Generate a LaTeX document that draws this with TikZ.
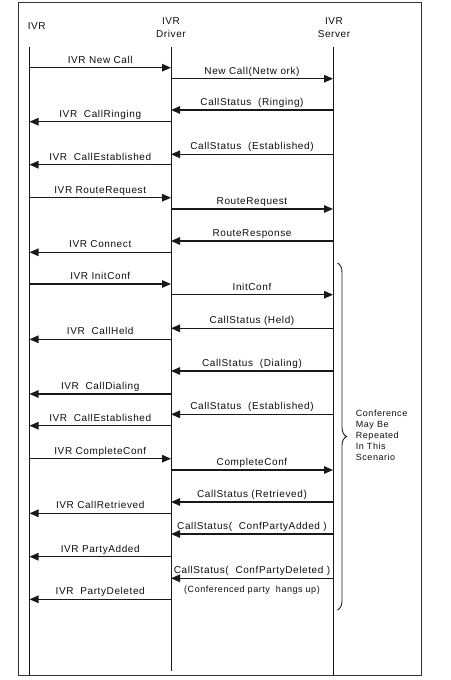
\documentclass[tikz,border=0pt]{standalone}
\usepackage{fontspec}
\setmainfont{Liberation Sans}[LetterSpace=6]
\usetikzlibrary{arrows.meta,decorations.pathreplacing}
\newcommand\seqmsg[5]{\draw[msg] (#2|-0,#4) -- node[lbl,name=#1]{#5} (#3|-0,#4);}
\begin{document}
\begin{tikzpicture}[x=1pt,y=-1pt,
  life/.style={line width=0.9pt,draw=black!90},
  msg/.style={line width=1.2pt,draw=black!90,-{Triangle[length=9pt,width=7.5pt]}},
  lbl/.style={anchor=base,inner sep=0pt,yshift=4.5pt,text=black!95,font=\fontsize{10}{12}\selectfont},
  head/.style={anchor=base,inner sep=0pt,text=black!95,font=\fontsize{10}{12}\selectfont},
  small/.style={inner sep=0pt,text=black!95,font=\fontsize{9}{11.2}\selectfont}]
\useasboundingbox (0,0) rectangle (450,680);
\draw[line width=0.9pt,draw=black!80] (18,2) rectangle (421,675);
% lifelines
\coordinate (ivrT) at (29.5,47);  \coordinate (ivrB) at (29.5,675);
\coordinate (drvT) at (171,47);   \coordinate (drvB) at (171,671);
\coordinate (srvT) at (333,47);   \coordinate (srvB) at (333,675);
\draw[life] (ivrT) -- (ivrB);
\draw[life] (drvT) -- (drvB);
\draw[life] (srvT) -- (srvB);
% headers
\node[head] (h1) at (36.7,29.5) {IVR};
\node[head] (h2a) at (171,24) {IVR};
\node[head] (h2b) at (171,37.5) {Driver};
\node[head] (h3a) at (334,24) {IVR};
\node[head] (h3b) at (334,37.5) {Server};
% messages
\seqmsg{m1}{ivrT}{drvT}{67.7}{IVR New Call}
\seqmsg{m2}{drvT}{srvT}{78.7}{New Call(Netw ork)}
\seqmsg{m3}{srvT}{drvT}{110}{CallStatus~ (Ringing)}
\seqmsg{m4}{drvT}{ivrT}{121.7}{IVR~ CallRinging}
\seqmsg{m5}{srvT}{drvT}{154.3}{CallStatus~ (Established)}
\seqmsg{m6}{drvT}{ivrT}{164.7}{IVR~ CallEstablished}
\seqmsg{m7}{ivrT}{drvT}{197.7}{IVR RouteRequest}
\seqmsg{m8}{drvT}{srvT}{209}{RouteRequest}
\seqmsg{m9}{srvT}{drvT}{241}{RouteResponse}
\seqmsg{m10}{drvT}{ivrT}{252.3}{IVR Connect}
\seqmsg{m11}{ivrT}{drvT}{284}{IVR InitConf}
\seqmsg{m12}{drvT}{srvT}{294.7}{InitConf}
\seqmsg{m13}{srvT}{drvT}{328.3}{CallStatus (Held)}
\seqmsg{m14}{drvT}{ivrT}{339.3}{IVR~ CallHeld}
\seqmsg{m15}{srvT}{drvT}{371}{CallStatus~ (Dialing)}
\seqmsg{m16}{drvT}{ivrT}{394}{IVR~ CallDialing}
\seqmsg{m17}{srvT}{drvT}{414.3}{CallStatus~ (Established)}
\seqmsg{m18}{drvT}{ivrT}{425.7}{IVR~ CallEstablished}
\seqmsg{m19}{ivrT}{drvT}{458.7}{IVR CompleteConf}
\seqmsg{m20}{drvT}{srvT}{470}{CompleteConf}
\seqmsg{m21}{srvT}{drvT}{502}{CallStatus (Retrieved)}
\seqmsg{m22}{drvT}{ivrT}{513.3}{IVR CallRetrieved}
\seqmsg{m23}{srvT}{drvT}{534}{CallStatus(~ ConfPartyAdded )}
\seqmsg{m24}{drvT}{ivrT}{556.7}{IVR PartyAdded}
\seqmsg{m25}{srvT}{drvT}{578.3}{CallStatus(~ ConfPartyDeleted )}
\seqmsg{m26}{drvT}{ivrT}{599.3}{IVR~ PartyDeleted}
\node[small,anchor=base] (note) at (252,592) {(Conferenced party~ hangs up)};
% brace
\coordinate (bt) at (337.5,263);
\coordinate (bb) at (337.5,610);
\draw[decorate,decoration={brace,amplitude=9pt},line width=0.9pt,draw=black!90] (bt) -- (bb);
\node[small,anchor=north west,align=left] (conf) at (355.7,409.3) {Conference\\May Be\\Repeated\\In This\\Scenario};
\end{tikzpicture}
\end{document}
